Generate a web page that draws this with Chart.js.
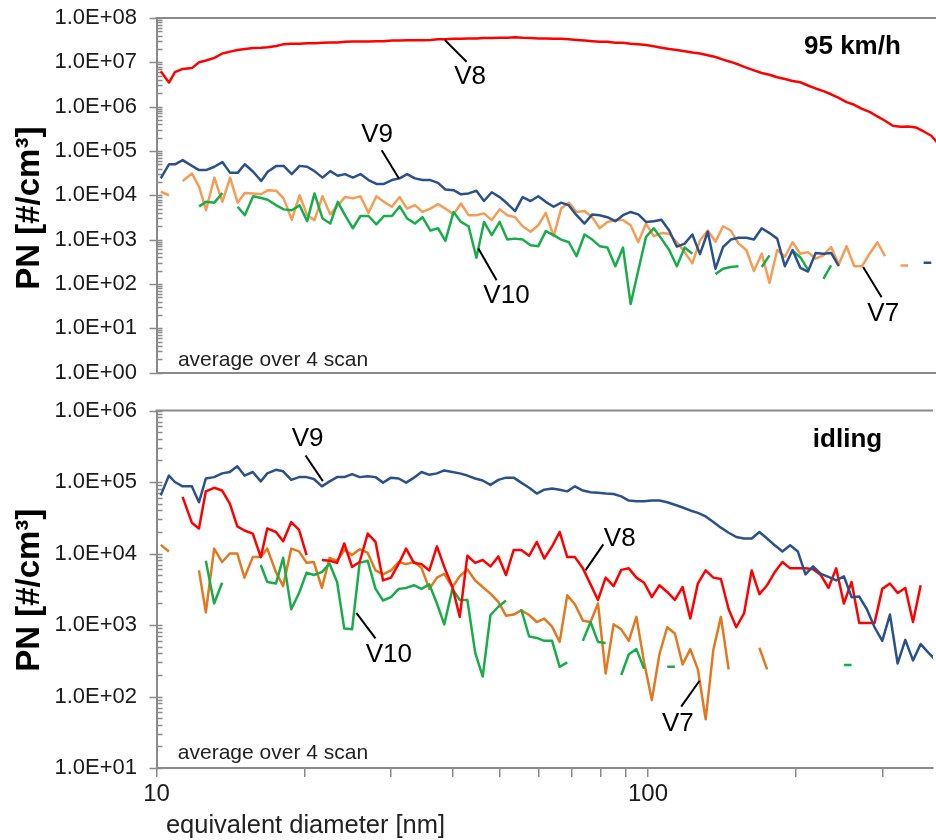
<!DOCTYPE html>
<html lang="en">
<head>
<meta charset="UTF-8">
<title>PN size distributions V7-V10</title>
<style>
  body { margin: 0; background: #fff; overflow: hidden; }
  canvas { display: block; }
</style>
<script src="https://cdn.jsdelivr.net/npm/chart.js"></script>
</head>
<body>
<canvas id="fast" width="936" height="390"></canvas>
<canvas id="idle" width="936" height="450"></canvas>
<script>
// SMPS channel midpoints, nm (64 per decade)
const diameters = [
  10.2, 10.6, 10.9, 11.3, 11.8, 12.2, 12.6, 13.1, 13.6, 14.1,
  14.6, 15.1, 15.7, 16.3, 16.8, 17.5, 18.1, 18.8, 19.5, 20.2,
  20.9, 21.7, 22.5, 23.3, 24.1, 25.0, 25.9, 26.9, 27.9, 28.9,
  30.0, 31.1, 32.2, 33.4, 34.6, 35.9, 37.2, 38.5, 40.0, 41.4,
  42.9, 44.5, 46.1, 47.8, 49.6, 51.4, 53.3, 55.2, 57.3, 59.4,
  61.5, 63.8, 66.1, 68.5, 71.0, 73.7, 76.4, 79.1, 82.0, 85.1,
  88.2, 91.4, 94.7, 98.2, 101.8, 105.5, 109.4, 113.4, 117.6, 121.9,
  126.3, 131.0, 135.8, 140.7, 145.9, 151.2, 156.8, 162.5, 168.5, 174.7,
  181.1, 187.7, 194.6, 201.7, 209.1, 216.7, 224.7, 232.9, 241.4, 250.3,
  259.5, 269.0, 278.8, 289.0, 299.6, 310.6, 322.0, 333.8, 346.0, 358.7,
  371.8, 385.4
];

// 95 km/h, PN per channel [#/cm3]
const fastV8 = [
  6.3e6, 3.5e6, 6.0e6, 7.1e6, 7.4e6, 1.0e7, 1.1e7, 1.26e7, 1.58e7, 1.74e7,
  1.9e7, 2.0e7, 2.1e7, 2.14e7, 2.2e7, 2.34e7, 2.57e7, 2.63e7, 2.63e7, 2.7e7,
  2.7e7, 2.75e7, 2.8e7, 2.8e7, 2.9e7, 2.95e7, 2.95e7, 2.95e7, 3.0e7, 3.0e7,
  3.1e7, 3.1e7, 3.16e7, 3.16e7, 3.16e7, 3.2e7, 3.3e7, 3.3e7, 3.4e7, 3.4e7,
  3.45e7, 3.45e7, 3.55e7, 3.55e7, 3.6e7, 3.6e7, 3.7e7, 3.6e7, 3.55e7, 3.45e7,
  3.45e7, 3.4e7, 3.4e7, 3.3e7, 3.2e7, 3.1e7, 3.0e7, 2.9e7, 2.9e7, 2.75e7,
  2.75e7, 2.63e7, 2.57e7, 2.45e7, 2.3e7, 2.14e7, 2.0e7, 1.9e7, 1.78e7, 1.66e7,
  1.58e7, 1.45e7, 1.32e7, 1.15e7, 1.02e7, 8.9e6, 7.6e6, 6.6e6, 5.75e6, 5.25e6,
  4.6e6, 4.2e6, 3.8e6, 3.55e6, 3.0e6, 2.57e6, 2.24e6, 1.9e6, 1.58e6, 1.26e6,
  1.1e6, 8.9e5, 7.6e5, 6.0e5, 4.8e5, 3.7e5, 3.5e5, 3.55e5, 3.4e5, 2.75e5,
  2.2e5, 1.4e5
];
const fastV9 = [
  2.4e4, 5.0e4, 5.0e4, 6.2e4, 4.6e4, 3.7e4, 3.7e4, 4.4e4, 5.6e4, 3.2e4,
  3.2e4, 5.0e4, 3.4e4, 2.1e4, 3.4e4, 4.6e4, 4.6e4, 3.0e4, 4.6e4, 4.4e4,
  3.5e4, 2.5e4, 3.5e4, 2.75e4, 3.0e4, 2.5e4, 3.0e4, 2.2e4, 1.8e4, 1.8e4,
  2.2e4, 2.4e4, 3.0e4, 2.4e4, 2.2e4, 2.2e4, 1.9e4, 1.35e4, 1.3e4, 1.05e4,
  1.1e4, 1.26e4, 7.4e3, 1.17e4, 9.1e3, 6.5e3, 4.4e3, 9.1e3, 7.4e3, 9.5e3,
  7.1e3, 5.5e3, 6.8e3, 5.9e3, 3.55e3, 2.3e3, 3.7e3, 3.55e3, 3.2e3, 2.6e3,
  3.55e3, 4.2e3, 3.7e3, 2.5e3, 2.6e3, 2.8e3, 1.6e3, 6.9e2, 8.1e2, 1.3e3,
  4.7e2, 1.5e3, 2.2e2, 6.8e2, 1.0e3, 1.1e3, 1.1e3, 1.0e3, 1.8e3, 1.4e3,
  1.05e3, 2.5e2, 5.8e2, 2.3e2, 1.9e2, 5.0e2, 4.8e2, 5.0e2, 2.5e2, null,
  null, null, null, null, null, null, null, null, null, 3.0e2,
  3.0e2, null
];
const fastV7 = [
  1.2e4, 1.0e4, null, 2.1e4, 3.1e4, 1.55e4, 4.6e3, 2.5e4, 7.1e3, 2.5e4,
  6.8e3, 1.12e4, 1.1e4, 1.05e4, 1.3e4, 1.26e4, 8.5e3, 2.8e3, 1.0e4, 3.55e3,
  2.75e3, 9.5e3, 3.7e3, 5.9e3, 9.1e3, 8.5e3, 9.5e3, 4.0e3, 9.5e3, 7.1e3,
  5.5e3, 9.1e3, 5.0e3, 6.0e3, 4.2e3, 5.0e3, 6.3e3, 5.0e3, 3.7e3, 6.5e3,
  3.55e3, 3.55e3, 3.9e3, 2.75e3, 4.8e3, 3.55e3, 3.2e3, 2.0e3, 1.5e3, 2.1e3,
  4.0e3, 1.2e3, 5.0e3, 6.8e3, 4.2e3, 4.4e3, 3.2e3, 1.8e3, 2.5e3, 2.75e3,
  2.75e3, 2.1e3, 8.7e2, 2.3e3, 1.2e3, 1.4e3, 1.35e3, 8.7e2, 5.2e2, 2.9e2,
  9.5e2, 1.6e3, 8.9e2, 2.0e3, 1.6e3, 8.1e2, 5.8e2, 1.95e2, 4.8e2, 1.05e2,
  5.8e2, 4.1e2, 8.7e2, 4.8e2, 5.2e2, 3.7e2, 4.4e2, 6.8e2, 2.75e2, 7.1e2,
  2.5e2, 2.5e2, 4.8e2, 8.7e2, 4.2e2, null, 2.6e2, 2.6e2, null, null,
  null, null
];
const fastV10 = [
  null, null, null, null, null, 5.6e3, 7.1e3, 6.8e3, 1.12e4, null,
  5.5e3, 3.55e3, 9.5e3, 8.7e3, 7.9e3, 5.9e3, 4.8e3, 4.6e3, 5.9e3, 2.6e3,
  1.1e4, 3.0e3, 2.3e3, 7.1e3, 3.55e3, 1.8e3, 3.4e3, 3.4e3, 2.2e3, 3.4e3,
  3.4e3, 5.6e3, 3.0e3, 2.3e3, 3.2e3, 1.6e3, 1.8e3, 9.3e2, 4.2e3, 2.5e3,
  2.0e3, 3.9e2, 2.5e3, 1.26e3, 2.5e3, 1.0e3, 1.05e3, 1.0e3, 7.4e2, 7.1e2,
  1.55e3, 1.26e3, 1.0e3, 8.7e2, 4.2e2, 1.3e3, 1.0e3, 7.1e2, 6.6e2, 2.5e2,
  6.6e2, 35, 2.0e2, 1.15e3, 1.8e3, 1.05e3, 5.8e2, 2.5e2, 6.6e2, 4.8e2,
  null, null, 1.66e2, 2.2e2, 2.4e2, 2.5e2, null, null, 2.4e2, 4.4e2,
  null, null, 5.6e2, 4.0e2, 2.1e2, null, 1.3e2, 2.6e2, null, null,
  null, null, null, null, null, null, null, null, null, null,
  null, null
];

// idling
const idleV9 = [
  6.5e4, 1.23e5, 1.0e5, 8.7e4, 8.7e4, 5.2e4, 1.12e5, 1.17e5, 1.32e5, 1.38e5,
  1.66e5, 1.23e5, 1.38e5, 1.02e5, 1.32e5, 1.48e5, 1.41e5, 1.07e5, 1.17e5, 1.17e5,
  1.1e5, 8.7e4, 1.02e5, 1.17e5, 1.17e5, 1.29e5, 1.17e5, 1.2e5, 1.17e5, 9.8e4,
  1.15e5, 1.12e5, 9.8e4, 1.15e5, 1.38e5, 1.26e5, 1.32e5, 1.45e5, 1.38e5, 1.32e5,
  1.23e5, 1.12e5, 1.05e5, 9.1e4, 1.07e5, 1.15e5, 1.15e5, 9.8e4, 8.3e4, 6.9e4,
  7.8e4, 8.1e4, 7.8e4, 7.4e4, 8.7e4, 7.6e4, 7.2e4, 7.1e4, 6.9e4, 6.8e4,
  6.3e4, 5.5e4, 5.4e4, 5.4e4, 5.5e4, 5.5e4, 5.2e4, 4.8e4, 4.4e4, 4.0e4,
  3.7e4, 3.3e4, 2.75e4, 2.3e4, 1.95e4, 1.7e4, 1.62e4, 1.62e4, 2.0e4, 1.62e4,
  1.3e4, 1.07e4, 1.3e4, 1.07e4, 5.1e3, 6.6e3, 5.2e3, 4.7e3, 4.2e3, 4.8e3,
  2.45e3, 2.5e3, 1.66e3, 9.3e2, 6.0e2, 1.4e3, 2.9e2, 6.2e2, 3.2e2, 5.4e2,
  4.1e2, 3.2e2
];
const idleV8 = [
  null, null, null, 6.2e4, 2.7e4, 2.24e4, 7.4e4, 8.3e4, 7.6e4, 5.0e4,
  2.4e4, 2.1e4, 1.9e4, 8.9e3, 2.24e4, 2.0e4, 1.48e4, 2.75e4, 2.14e4, 9.5e3,
  null, 8.1e3, 7.9e3, 7.4e3, 1.38e4, 6.5e3, 7.6e3, 1.9e4, 1.45e4, 4.2e3,
  4.6e3, 7.2e3, 1.17e4, 7.4e3, 7.1e3, 5.8e3, 1.26e4, 6.5e3, 3.4e3, 1.3e3,
  9.3e3, 7.4e3, 8.1e3, 6.6e3, 9.1e3, 5.0e3, 1.12e4, 1.12e4, 9.3e3, 1.45e4,
  8.5e3, 1.26e4, 2.0e4, 8.9e3, 8.9e3, 6.2e3, 3.7e3, 2.24e3, 4.6e3, 3.5e3,
  5.9e3, 6.2e3, 4.6e3, 3.9e3, 2.45e3, 3.6e3, 2.9e3, 2.24e3, 3.4e3, 1.23e3,
  3.8e3, 5.8e3, 4.6e3, 4.4e3, 1.66e3, 9.3e2, 1.45e3, 5.8e3, 2.7e3, 3.6e3,
  5.5e3, 7.6e3, 6.2e3, 6.2e3, 6.2e3, 6.0e3, 5.0e3, 3.3e3, 6.2e3, 2.0e3,
  4.0e3, 1.07e3, 1.07e3, 1.07e3, 3.2e3, 3.8e3, 2.8e3, 3.3e3, 1.1e3, 3.6e3,
  null, null
];
const idleV7 = [
  1.32e4, 1.07e4, null, null, null, 5.8e3, 1.5e3, 1.17e4, 7.6e3, 1.0e4,
  1.0e4, 4.6e3, 8.9e3, 8.9e3, 1.17e4, 5.5e3, 3.5e3, 1.17e4, 1.07e4, 7.4e3,
  7.6e3, 3.3e3, 8.7e3, 7.9e3, 1.12e4, 9.5e3, 1.15e4, 1.02e4, 5.8e3, 5.1e3,
  5.8e3, 7.6e3, 7.1e3, 7.6e3, 6.3e3, 3.2e3, 4.6e3, 5.2e3, 3.4e3, 4.8e3,
  6.0e3, 4.2e3, 3.4e3, 2.75e3, 2.1e3, 1.35e3, 1.4e3, 1.6e3, 1.38e3, 1.1e3,
  1.23e3, 9.5e2, 5.8e2, 2.6e3, 1.95e3, 1.15e3, 1.1e3, 2.0e3, 2.1e2, 1.02e3,
  8.7e2, 6.0e2, 1.3e3, 3.0e2, 89, 3.9e2, 9.3e2, 7.6e2, 2.8e2, 4.6e2,
  2.4e2, 48, 4.5e2, 1.3e3, 2.4e2, null, null, null, 4.8e2, 2.4e2,
  null, null, null, null, null, null, null, null, null, null,
  null, null, null, null, null, null, null, null, null, null,
  null, null
];
const idleV10 = [
  null, null, null, null, null, null, 7.9e3, 2.0e3, 3.9e3, null,
  null, null, null, 6.9e3, 4.0e3, 3.8e3, 8.7e3, 1.66e3, 2.8e3, 5.4e3,
  5.0e3, 5.5e3, 7.2e3, 4.0e3, 8.9e2, 8.7e2, 7.4e3, 7.9e3, 3.2e3, 2.2e3,
  2.45e3, 3.2e3, 3.3e3, 3.6e3, 3.2e3, 3.7e3, 2.0e3, 1.02e3, 3.2e3, 2.24e3,
  2.24e3, 4.1e2, 1.9e2, 1.38e3, 1.8e3, 2.2e3, null, 1.66e3, 6.9e2, 6.6e2,
  6.0e2, 6.0e2, 2.6e2, 3.0e2, null, 6.0e2, 1.1e3, 5.8e2, 5.6e2, null,
  2.0e2, 3.9e2, 4.6e2, 2.45e2, null, null, 2.6e2, 2.6e2, null, null,
  null, null, null, null, null, null, null, null, null, null,
  null, null, null, null, null, null, null, null, null, 2.75e2,
  2.75e2, null, null, null, null, null, null, null, null, null,
  null, null
];

// annotations, in data coordinates [diameter, PN]
const fastNotes = [
  { text: 'V8', at: [43.2, 4.6e6], from: [38.4, 3.2e7], to: [42.5, 1.03e7] },
  { text: 'V9', at: [28.0, 2.27e5], from: [28.6, 1.04e5], to: [31.0, 2.4e4] },
  { text: 'V10', at: [51.2, 55], from: [44.9, 625], to: [48.9, 120] },
  { text: 'V7', at: [297, 21], from: [270.5, 240], to: [294.8, 50] }
];
const idleNotes = [
  { text: 'V9', at: [20.3, 4.0e5], from: [20.1, 2.35e5], to: [21.8, 1.03e5] },
  { text: 'V10', at: [29.7, 380], from: [25.5, 1.48e3], to: [27.9, 650] },
  { text: 'V8', at: [87.6, 1.6e4], from: [81.1, 1.34e4], to: [74.6, 5.8e3] },
  { text: 'V7', at: [115, 42], from: [127.3, 166], to: [116.8, 72] }
];

const panelText = {
  fast: { notes: fastNotes, caption: '95 km/h', captionAt: [322.5, 2.2e7], avgAt: [11.05, 1.87], yTitleAt: 5.1e3 },
  idle: { notes: idleNotes, caption: 'idling', captionAt: [299.5, 3.9e5], avgAt: [11.05, 16.2], yTitleAt: 3.06e3,
          xTitle: 'equivalent diameter [nm]', xTitleAt: 10.45 }
};

const AXIS = '#8a8a8a';
const FONT = "'Liberation Sans', Arial, sans-serif";
const RED = '#ff0000', BLUE = '#2b5189', GREEN = '#18ad4a';
const ORANGE_FAST = '#f59d56', ORANGE_IDLE = '#e2781f';

Chart.defaults.font.family = FONT;
Chart.defaults.color = '#1a1a1a';

function isDecade(v) {
  const l = Math.log10(v);
  return Math.abs(l - Math.round(l)) < 1e-6;
}
function isRoundTick(v) {
  const m = v / Math.pow(10, Math.floor(Math.log10(v) + 1e-9));
  return Math.abs(m - Math.round(m)) < 1e-6;
}
function sciLabel(v) {
  if (!isDecade(v)) return '';
  const e = Math.round(Math.log10(v));
  return '1.0E' + (e < 0 ? '-' : '+') + String(Math.abs(e)).padStart(2, '0');
}

function series(label, vals, color) {
  return {
    label: label,
    data: diameters.map((d, i) => ({ x: d, y: vals[i] })),
    borderColor: color,
    borderWidth: 2.5,
    borderJoinStyle: 'round',
    pointRadius: 0,
    tension: 0,
    spanGaps: false,
    fill: false
  };
}

// frame, y tick marks and all the text on the plot
const notesPlugin = {
  id: 'notes',
  beforeDatasetsDraw(chart) {
    const { ctx, chartArea: a } = chart;
    const y = chart.scales.y;
    ctx.save();
    ctx.strokeStyle = AXIS;
    ctx.lineWidth = 1.5;
    y.ticks.forEach(t => {
      if (!isRoundTick(t.value)) return;
      const py = Math.round(y.getPixelForValue(t.value)) + 0.5;
      ctx.beginPath();
      ctx.moveTo(isDecade(t.value) ? a.left - 7 : a.left, py);
      ctx.lineTo(a.left + 6, py);
      ctx.stroke();
    });
    ctx.lineWidth = 2;
    ctx.beginPath();
    ctx.moveTo(a.left - 1, a.top);
    ctx.lineTo(a.right, a.top);
    ctx.stroke();
    ctx.restore();
  },
  afterDatasetsDraw(chart) {
    const p = panelText[chart.canvas.id];
    const { ctx } = chart;
    const x = chart.scales.x, y = chart.scales.y;
    ctx.save();
    ctx.fillStyle = '#000';
    ctx.strokeStyle = '#000';
    ctx.lineWidth = 2;
    ctx.textAlign = 'center';
    ctx.textBaseline = 'middle';
    ctx.font = '26px ' + FONT;
    p.notes.forEach(n => {
      ctx.beginPath();
      ctx.moveTo(x.getPixelForValue(n.from[0]), y.getPixelForValue(n.from[1]));
      ctx.lineTo(x.getPixelForValue(n.to[0]), y.getPixelForValue(n.to[1]));
      ctx.stroke();
      ctx.fillText(n.text, x.getPixelForValue(n.at[0]), y.getPixelForValue(n.at[1]));
    });

    ctx.font = 'bold 26px ' + FONT;
    ctx.textAlign = 'right';
    ctx.fillText(p.caption, x.getPixelForValue(p.captionAt[0]), y.getPixelForValue(p.captionAt[1]));

    ctx.font = '21px ' + FONT;
    ctx.textAlign = 'left';
    ctx.fillStyle = '#222';
    ctx.fillText('average over 4 scan', x.getPixelForValue(p.avgAt[0]), y.getPixelForValue(p.avgAt[1]));

    if (p.xTitle) {
      ctx.font = '25.5px ' + FONT;
      ctx.fillText(p.xTitle, x.getPixelForValue(p.xTitleAt), chart.height - 14);
    }

    ctx.translate(30, y.getPixelForValue(p.yTitleAt));
    ctx.rotate(-Math.PI / 2);
    ctx.font = 'bold 33px ' + FONT;
    ctx.textAlign = 'center';
    ctx.fillStyle = '#000';
    ctx.fillText('PN [#/cm\u00b3]', 0, 0);
    ctx.restore();
  }
};

function makePanel(id, sets, yMin, yMax, withXTicks) {
  return new Chart(document.getElementById(id), {
    type: 'line',
    data: { datasets: sets },
    options: {
      responsive: false,
      animation: false,
      devicePixelRatio: 1,
      layout: { padding: { top: withXTicks ? 20.5 : 18, left: 0, right: 0, bottom: 0 } },
      plugins: { legend: { display: false }, tooltip: { enabled: false } },
      scales: {
        x: {
          type: 'logarithmic',
          min: 10,
          max: 380,
          afterFit: s => { s.height = withXTicks ? 72 : 17.5; },
          border: { color: AXIS, width: 2 },
          grid: {
            display: withXTicks,
            drawOnChartArea: false,
            tickLength: 9,
            lineWidth: 1.5,
            color: c => (!c.tick || isRoundTick(c.tick.value)) ? AXIS : 'rgba(0,0,0,0)'
          },
          ticks: {
            display: withXTicks,
            autoSkip: false,
            maxRotation: 0,
            padding: 3,
            font: { size: 24 },
            color: '#1a1a1a',
            callback: v => (v === 10 || v === 100) ? String(v) : ''
          }
        },
        y: {
          type: 'logarithmic',
          min: yMin,
          max: yMax,
          afterFit: s => { s.width = 156.5; },
          border: { color: AXIS, width: 2 },
          // tick marks are drawn by the plugin; the long invisible tick keeps labels clear of the axis
          grid: { drawOnChartArea: false, tickLength: 19.5, color: 'rgba(0,0,0,0)' },
          ticks: {
            autoSkip: false,
            padding: 0,
            font: { size: 22 },
            color: '#1a1a1a',
            callback: v => sciLabel(v)
          }
        }
      }
    },
    plugins: [notesPlugin]
  });
}

makePanel('fast', [
  series('V8', fastV8, RED),
  series('V9', fastV9, BLUE),
  series('V10', fastV10, GREEN),
  series('V7', fastV7, ORANGE_FAST)
], 1, 1e8, false);

makePanel('idle', [
  series('V9', idleV9, BLUE),
  series('V8', idleV8, RED),
  series('V10', idleV10, GREEN),
  series('V7', idleV7, ORANGE_IDLE)
], 10, 1e6, true);
</script>
</body>
</html>
